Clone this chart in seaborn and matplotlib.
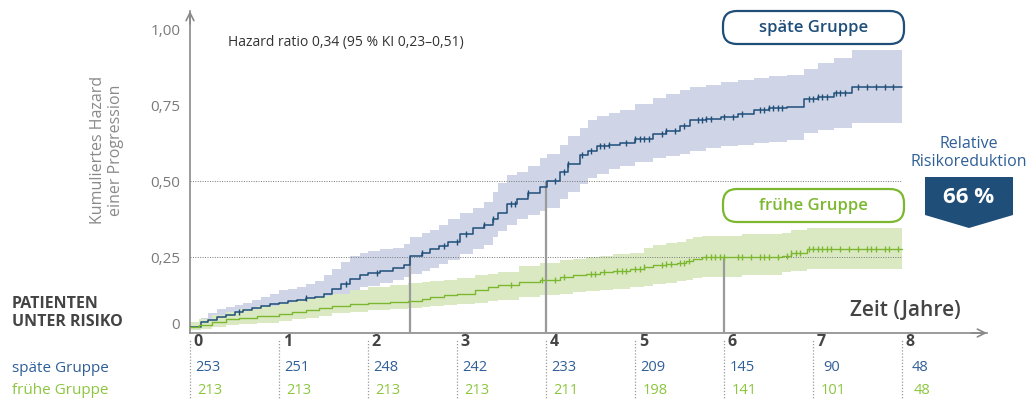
"""
Kumulierte Hazard-Kurven (späte vs. frühe Gruppe) mit Risikotabelle
Saves the output as out.png
"""

import numpy as np
import pandas as pd
import matplotlib.pyplot as plt
import seaborn as sns
from matplotlib.patches import FancyBboxPatch, Polygon

# ------------------------------#
# Data

# späte Gruppe
late_time = [0.00, 0.12, 0.20, 0.30, 0.40, 0.50, 0.60, 0.70, 0.80, 0.90, 1.00, 1.10,
             1.20, 1.30, 1.40, 1.50, 1.60, 1.70, 1.80, 1.91, 2.00, 2.13, 2.28, 2.40,
             2.47, 2.60, 2.70, 2.80, 2.90, 3.03, 3.18, 3.30, 3.40, 3.46, 3.56, 3.67,
             3.80, 3.93, 4.01, 4.16, 4.25, 4.38, 4.47, 4.57, 4.70, 4.83, 5.00, 5.20,
             5.35, 5.50, 5.62, 5.80, 5.96, 6.15, 6.33, 6.50, 6.70, 6.90, 7.05, 7.23,
             7.43, 8.00]
late_est = [0.020, 0.035, 0.042, 0.052, 0.060, 0.068, 0.075, 0.082, 0.088, 0.094,
            0.100, 0.104, 0.110, 0.115, 0.120, 0.130, 0.145, 0.162, 0.178, 0.190,
            0.196, 0.205, 0.215, 0.225, 0.255, 0.265, 0.275, 0.285, 0.300, 0.325,
            0.345, 0.355, 0.375, 0.395, 0.425, 0.440, 0.460, 0.480, 0.500, 0.530,
            0.555, 0.585, 0.600, 0.615, 0.620, 0.625, 0.640, 0.655, 0.665, 0.680,
            0.700, 0.705, 0.710, 0.722, 0.735, 0.740, 0.745, 0.770, 0.778, 0.790,
            0.810, 0.810]
late_lower = [0.010, 0.015, 0.020, 0.025, 0.032, 0.040, 0.045, 0.050, 0.056, 0.062,
              0.068, 0.072, 0.078, 0.083, 0.090, 0.100, 0.112, 0.128, 0.140, 0.150,
              0.156, 0.165, 0.175, 0.185, 0.195, 0.205, 0.215, 0.228, 0.240, 0.260,
              0.275, 0.290, 0.315, 0.335, 0.355, 0.375, 0.390, 0.400, 0.410, 0.440,
              0.465, 0.490, 0.510, 0.525, 0.540, 0.550, 0.562, 0.575, 0.582, 0.590,
              0.600, 0.608, 0.615, 0.620, 0.625, 0.630, 0.635, 0.660, 0.668, 0.675,
              0.690, 0.690]
late_upper = [0.025, 0.050, 0.065, 0.078, 0.085, 0.092, 0.100, 0.110, 0.120, 0.130,
              0.140, 0.146, 0.152, 0.160, 0.172, 0.190, 0.210, 0.235, 0.252, 0.265,
              0.270, 0.275, 0.280, 0.292, 0.315, 0.328, 0.340, 0.355, 0.375, 0.395,
              0.410, 0.430, 0.465, 0.495, 0.520, 0.530, 0.550, 0.575, 0.590, 0.620,
              0.650, 0.675, 0.700, 0.715, 0.725, 0.735, 0.755, 0.775, 0.788, 0.800,
              0.810, 0.818, 0.825, 0.832, 0.840, 0.845, 0.850, 0.870, 0.888, 0.905,
              0.930, 0.930]
late_censor = [0.55, 1.3, 1.75, 2.1, 2.6, 2.85, 3.0, 3.1, 3.3, 3.4, 3.6, 3.65, 3.8,
               4.1, 4.2, 4.25, 4.4, 4.5, 4.6, 4.65, 4.7, 4.9, 5.0, 5.05, 5.1, 5.15,
               5.3, 5.35, 5.45, 5.55, 5.7, 5.75, 5.8, 5.85, 6.0, 6.1, 6.2, 6.4, 6.45,
               6.5, 6.55, 6.6, 6.65, 6.95, 7.0, 7.05, 7.1, 7.15, 7.25, 7.3, 7.35,
               7.5, 7.6, 7.7, 7.8, 7.9]

# frühe Gruppe
early_time = [0.00, 0.10, 0.25, 0.40, 0.55, 0.75, 1.00, 1.15, 1.30, 1.45, 1.60, 1.80,
              2.00, 2.25, 2.45, 2.60, 2.70, 2.85, 3.00, 3.20, 3.35, 3.46, 3.70, 3.93,
              4.16, 4.30, 4.45, 4.60, 4.75, 4.94, 5.10, 5.20, 5.35, 5.47, 5.57, 5.65,
              5.75, 6.20, 6.65, 6.75, 6.93, 8.00]
early_est = [0.020, 0.025, 0.035, 0.045, 0.050, 0.055, 0.062, 0.068, 0.075, 0.082,
             0.090, 0.095, 0.100, 0.102, 0.105, 0.112, 0.118, 0.124, 0.130, 0.140,
             0.150, 0.158, 0.168, 0.175, 0.185, 0.190, 0.195, 0.200, 0.205, 0.210,
             0.218, 0.225, 0.228, 0.232, 0.237, 0.242, 0.250, 0.250, 0.255, 0.262,
             0.275, 0.275]
early_lower = [0.010, 0.012, 0.020, 0.026, 0.030, 0.034, 0.040, 0.045, 0.050, 0.057,
               0.065, 0.070, 0.075, 0.078, 0.082, 0.085, 0.088, 0.092, 0.095, 0.100,
               0.105, 0.110, 0.118, 0.125, 0.130, 0.135, 0.138, 0.142, 0.146, 0.150,
               0.155, 0.160, 0.165, 0.170, 0.175, 0.180, 0.185, 0.192, 0.200, 0.205,
               0.210, 0.210]
early_upper = [0.035, 0.045, 0.058, 0.068, 0.078, 0.088, 0.100, 0.108, 0.115, 0.122,
               0.130, 0.140, 0.150, 0.158, 0.164, 0.167, 0.170, 0.175, 0.180, 0.190,
               0.195, 0.200, 0.220, 0.230, 0.240, 0.245, 0.250, 0.255, 0.260, 0.265,
               0.280, 0.290, 0.295, 0.300, 0.308, 0.315, 0.320, 0.325, 0.330, 0.338,
               0.345, 0.345]
early_censor = [3.6, 3.95, 4.1, 4.2, 4.5, 4.55, 4.65, 4.8, 4.85, 4.9, 5.0, 5.05, 5.1,
                5.3, 5.35, 5.4, 5.5, 5.55, 5.6, 5.8, 5.85, 5.9, 5.95, 6.0, 6.15, 6.2,
                6.3, 6.4, 6.45, 6.5, 6.6, 6.7, 6.75, 6.8, 6.85, 6.95, 7.0, 7.05, 7.1,
                7.15, 7.2, 7.3, 7.4, 7.5, 7.6, 7.65, 7.7, 7.8, 7.85, 7.95]

# Risikotabelle
risk_years = [0, 1, 2, 3, 4, 5, 6, 7, 8]
late_at_risk = [253, 251, 248, 242, 233, 209, 145, 90, 48]
early_at_risk = [213, 213, 213, 213, 211, 198, 141, 101, 48]

# Markierungen (Zeitpunkt, Niveau)
marker_times = [2.47, 4.0, 6.0]
marker_levels = [0.25, 0.50, 0.25]
ref_levels = [0.25, 0.50]

y_ticks = [0, 0.25, 0.50, 0.75, 1.00]
y_ticklabels = ["0", "0,25", "0,50", "0,75", "1,00"]

# ------------------------------#
# Style

late_col = "#1f4e79"
late_txt = "#2f5f97"
late_band = "#cfd5e7"
early_col = "#7cb82f"
early_txt = "#8cc63f"
early_band = "#dbe9c2"
axis_col = "#8a8a8a"
dark = "#444444"

sns.set_style("white")
plt.rcParams["font.family"] = ["Open Sans", "DejaVu Sans"]

fig = plt.figure(figsize=(10.35, 4), dpi=100)
ax = fig.add_axes([190 / 1035, 67 / 400, 797 / 1035, 322 / 400])

# ------------------------------#
# Curves + CI bands


def step_value(times, values, t):
    idx = np.searchsorted(times, t, side="right") - 1
    return np.asarray(values)[idx]


late_df = pd.DataFrame({"Zeit": late_time, "Hazard": late_est})
early_df = pd.DataFrame({"Zeit": early_time, "Hazard": early_est})

ax.fill_between(late_time, late_lower, late_upper, step="post",
                color=late_band, lw=0, zorder=1)
ax.fill_between(early_time, early_lower, early_upper, step="post",
                color=early_band, lw=0, zorder=2)

sns.lineplot(data=late_df, x="Zeit", y="Hazard", drawstyle="steps-post",
             color=late_col, lw=1.1, ax=ax, zorder=4)
sns.lineplot(data=early_df, x="Zeit", y="Hazard", drawstyle="steps-post",
             color=early_col, lw=1.0, ax=ax, zorder=4)

ax.plot(late_censor, step_value(late_time, late_est, late_censor), ls="none",
        marker="|", ms=5, mew=1.0, color=late_col, zorder=5)
ax.plot(early_censor, step_value(early_time, early_est, early_censor), ls="none",
        marker="|", ms=5, mew=1.0, color=early_col, zorder=5)

# reference lines
for lvl in ref_levels:
    ax.plot([0, 8], [lvl, lvl], ls=(0, (1, 1.5)), lw=0.7, color="#777777", zorder=3)
ax.vlines(marker_times, 0, marker_levels, color="#9a9a9a", lw=1.6, zorder=3)

# ------------------------------#
# Axes

ax.set_xlim(0, 8.95)
ax.set_ylim(0, 1.06)
sns.despine(ax=ax)
for side in ["left", "bottom"]:
    ax.spines[side].set_color(axis_col)
    ax.spines[side].set_linewidth(1.2)

ax.set_yticks(y_ticks)
ax.set_yticklabels(y_ticklabels)
ax.tick_params(axis="y", direction="out", length=6, width=1, color=axis_col,
               labelcolor="#7a7a7a", labelsize=11, pad=1)
ax.get_yticklabels()[0].set_va("bottom")
ax.set_xticks(risk_years)
ax.set_xticklabels([])
ax.tick_params(axis="x", direction="out", length=7, width=1.2, color=axis_col)
ax.set_xlabel("")
ax.set_ylabel("")

# arrow heads
ax.annotate("", xy=(0, 1.0), xytext=(0, 0.96), xycoords=("data", "axes fraction"),
            textcoords=("data", "axes fraction"),
            arrowprops=dict(arrowstyle="->", color=axis_col, lw=1.2,
                            shrinkA=0, shrinkB=0, mutation_scale=14),
            annotation_clip=False)
ax.annotate("", xy=(1.0, 0), xytext=(0.98, 0), xycoords="axes fraction",
            arrowprops=dict(arrowstyle="->", color=axis_col, lw=1.2,
                            shrinkA=0, shrinkB=0, mutation_scale=14),
            annotation_clip=False)

# dotted tick extensions + tick labels + risk table
ax.vlines(risk_years, -0.23, -0.02, color="#999999", lw=0.9,
          linestyles=(0, (1, 1.5)), clip_on=False)
for yr, n_late, n_early in zip(risk_years, late_at_risk, early_at_risk):
    ax.text(yr + 0.04, -0.03, str(yr), ha="left", va="center", fontsize=11.5,
            fontweight="bold", color=dark, clip_on=False)
    ax.text(yr + 0.2, -0.115, str(n_late), ha="center", va="center", fontsize=10.5,
            color=late_txt, clip_on=False)
    ax.text(yr + 0.22, -0.19, str(n_early), ha="center", va="center", fontsize=10.5,
            color=early_txt, clip_on=False)

ax.text(8.65, 0.075, "Zeit (Jahre)", ha="right", va="center", fontsize=15,
        fontweight="semibold", color=dark)
ax.text(0.43, 0.955, "Hazard ratio 0,34 (95 % KI 0,23\u20130,51)", ha="left",
        va="center", fontsize=10, color="#333333")

# ------------------------------#
# Figure-level annotations

fig.text(12 / 1035, 1 - 313 / 400, "PATIENTEN\nUNTER RISIKO", ha="left", va="center",
         fontsize=11.5, fontweight="bold", color=dark, linespacing=1.25)
fig.text(12 / 1035, 1 - 368 / 400, "späte Gruppe", ha="left", va="center",
         fontsize=11, color=late_txt)
fig.text(12 / 1035, 1 - 391 / 400, "frühe Gruppe", ha="left", va="center",
         fontsize=11, color=early_txt)
fig.text(107 / 1035, 1 - 150 / 400, "Kumuliertes Hazard\neiner Progression",
         rotation=90, ha="center", va="center", fontsize=11.5, color="#8a8a8a",
         linespacing=1.1)

# legend boxes
inch = fig.dpi_scale_trans
for y0, label, col in [(3.56, "späte Gruppe", late_col), (1.78, "frühe Gruppe", early_col)]:
    fig.patches.append(FancyBboxPatch((7.23, y0), 1.81, 0.33,
                                      boxstyle="round,pad=0,rounding_size=0.14",
                                      fc="white", ec=col, lw=1.6, transform=inch))
    fig.text(8.135, y0 + 0.165, label, transform=inch, ha="center", va="center",
             fontsize=12, fontweight="semibold", color=col)

fig.text(9.69, 2.47, "Relative\nRisikoreduktion", transform=inch, ha="center",
         va="center", fontsize=11.5, color=late_txt, linespacing=1.2)
fig.patches.append(Polygon([(9.25, 2.23), (10.13, 2.23), (10.13, 1.85),
                            (9.69, 1.72), (9.25, 1.85)], closed=True,
                           fc=late_col, ec="none", transform=inch))
fig.text(9.69, 2.03, "66 %", transform=inch, ha="center", va="center",
         fontsize=16, fontweight="bold", color="white")

fig.savefig("out.png", dpi=100)
